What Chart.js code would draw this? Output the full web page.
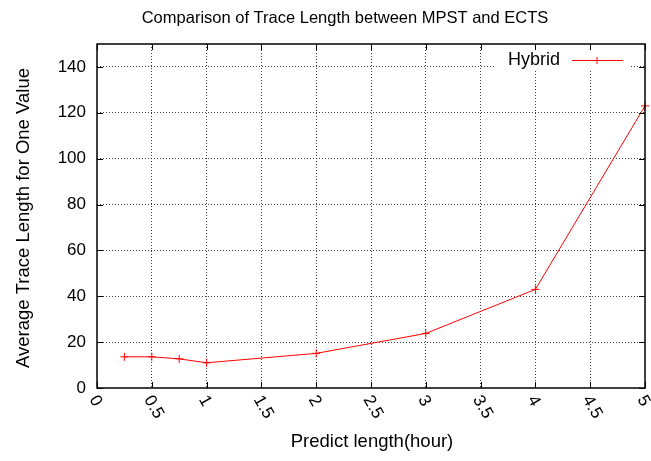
<!DOCTYPE html>
<html lang="en">
<head>
  <meta charset="UTF-8">
  <title>Comparison of Trace Length between MPST and ECTS</title>
  <script src="https://cdn.jsdelivr.net/npm/chart.js"></script>
  <style>
    body {
      margin: 0;
      background-color: #fff;
    }
    canvas {
      display: block;
    }
  </style>
</head>
<body>
  <canvas id="traceChart" width="651" height="461"></canvas>

  <script>
    // Values
    const predictHours = [0.25, 0.5, 0.75, 1, 2, 3, 4, 5];
    const hybridTrace = [13.6, 13.6, 12.7, 11, 15.1, 23.8, 43, 123];
    const seriesLabel = 'Hybrid';
    const chartTitle = 'Comparison of Trace Length between MPST and ECTS';
    const xTitle = 'Predict length(hour)';
    const yTitle = 'Average Trace Length for One Value';

    const FONT = '"Liberation Sans", Arial, sans-serif';

    // gnuplot-like frame, labels and legend drawn on top of the chart
    const gnuplotLook = {
      id: 'gnuplotLook',
      beforeDatasetsDraw(chart) {
        const ctx = chart.ctx;
        const area = chart.chartArea;
        // legend box hides the grid behind it
        ctx.save();
        ctx.fillStyle = '#fff';
        ctx.fillRect(area.right - 150, area.top + 1, 136, 26);
        ctx.restore();
      },
      afterDraw(chart) {
        const ctx = chart.ctx;
        const area = chart.chartArea;
        const xs = chart.scales.x;
        const ys = chart.scales.y;

        ctx.save();
        // frame
        ctx.strokeStyle = '#000';
        ctx.lineWidth = 1.5;
        ctx.strokeRect(area.left, area.top, area.right - area.left, area.bottom - area.top);

        // inward tick marks on all four sides
        ctx.lineWidth = 1;
        ctx.beginPath();
        xs.ticks.forEach(t => {
          const px = Math.round(xs.getPixelForValue(t.value)) + 0.5;
          ctx.moveTo(px, area.bottom); ctx.lineTo(px, area.bottom - 6);
          ctx.moveTo(px, area.top); ctx.lineTo(px, area.top + 6);
        });
        ys.ticks.forEach(t => {
          const py = Math.round(ys.getPixelForValue(t.value)) + 0.5;
          ctx.moveTo(area.left, py); ctx.lineTo(area.left + 6, py);
          ctx.moveTo(area.right, py); ctx.lineTo(area.right - 6, py);
        });
        ctx.stroke();

        ctx.fillStyle = '#000';
        // y tick labels
        ctx.font = '17px ' + FONT;
        ctx.textAlign = 'right';
        ctx.textBaseline = 'middle';
        ys.ticks.forEach(t => {
          ctx.fillText(String(t.value), area.left - 11, ys.getPixelForValue(t.value));
        });

        // x tick labels, rotated clockwise
        ctx.textAlign = 'left';
        xs.ticks.forEach(t => {
          const px = xs.getPixelForValue(t.value);
          ctx.save();
          ctx.translate(px - 4, area.bottom + 9);
          ctx.rotate(Math.PI / 3);
          ctx.fillText(String(t.value), 0, 0);
          ctx.restore();
        });

        // titles
        ctx.textAlign = 'center';
        ctx.font = '16.5px ' + FONT;
        ctx.fillText(chartTitle, 345, 18);
        ctx.font = '18.5px ' + FONT;
        ctx.fillText(xTitle, 372, 442);
        ctx.save();
        ctx.translate(24, 218);
        ctx.rotate(-Math.PI / 2);
        ctx.fillText(yTitle, 0, 0);
        ctx.restore();

        // legend
        const ly = area.top + 16;
        ctx.font = '18px ' + FONT;
        ctx.textAlign = 'right';
        ctx.fillText(seriesLabel, area.right - 85, ly);
        ctx.strokeStyle = '#ff0000';
        ctx.beginPath();
        ctx.moveTo(area.right - 73, ly + 0.5);
        ctx.lineTo(area.right - 22, ly + 0.5);
        ctx.moveTo(area.right - 48, ly - 3);
        ctx.lineTo(area.right - 48, ly + 4);
        ctx.moveTo(area.right - 51.5, ly + 0.5);
        ctx.lineTo(area.right - 44.5, ly + 0.5);
        ctx.stroke();
        ctx.restore();
      }
    };

    const gridColor = ctx => {
      const scale = ctx.scale;
      if (ctx.tick && (ctx.tick.value === scale.min || ctx.tick.value === scale.max)) {
        return 'rgba(0,0,0,0)';
      }
      return 'rgba(0,0,0,0.75)';
    };

    const ctx = document.getElementById('traceChart').getContext('2d');
    const traceChart = new Chart(ctx, {
      type: 'line',
      data: {
        datasets: [{
          label: seriesLabel,
          data: predictHours.map((h, i) => ({ x: h, y: hybridTrace[i] })),
          borderColor: '#ff0000',
          backgroundColor: '#ff0000',
          borderWidth: 1,
          pointStyle: 'cross',
          pointRadius: 4,
          pointBorderWidth: 1,
          fill: false,
          tension: 0,
          clip: false
        }]
      },
      options: {
        responsive: false,
        animation: false,
        layout: {
          padding: { left: 97, right: 6, top: 44, bottom: 73 }
        },
        plugins: {
          legend: { display: false },
          title: { display: false },
          tooltip: { enabled: false }
        },
        scales: {
          x: {
            type: 'linear',
            min: 0,
            max: 5,
            ticks: { display: false, stepSize: 0.5 },
            border: { display: false, dash: [1, 2] },
            grid: { color: gridColor, drawTicks: false, lineWidth: 1 }
          },
          y: {
            min: 0,
            max: 150,
            ticks: { display: false, stepSize: 20 },
            afterBuildTicks: axis => {
              axis.ticks = axis.ticks.filter(t => t.value % 20 === 0);
            },
            border: { display: false, dash: [1, 2] },
            grid: { color: gridColor, drawTicks: false, lineWidth: 1 }
          }
        }
      },
      plugins: [gnuplotLook]
    });
  </script>
</body>
</html>
